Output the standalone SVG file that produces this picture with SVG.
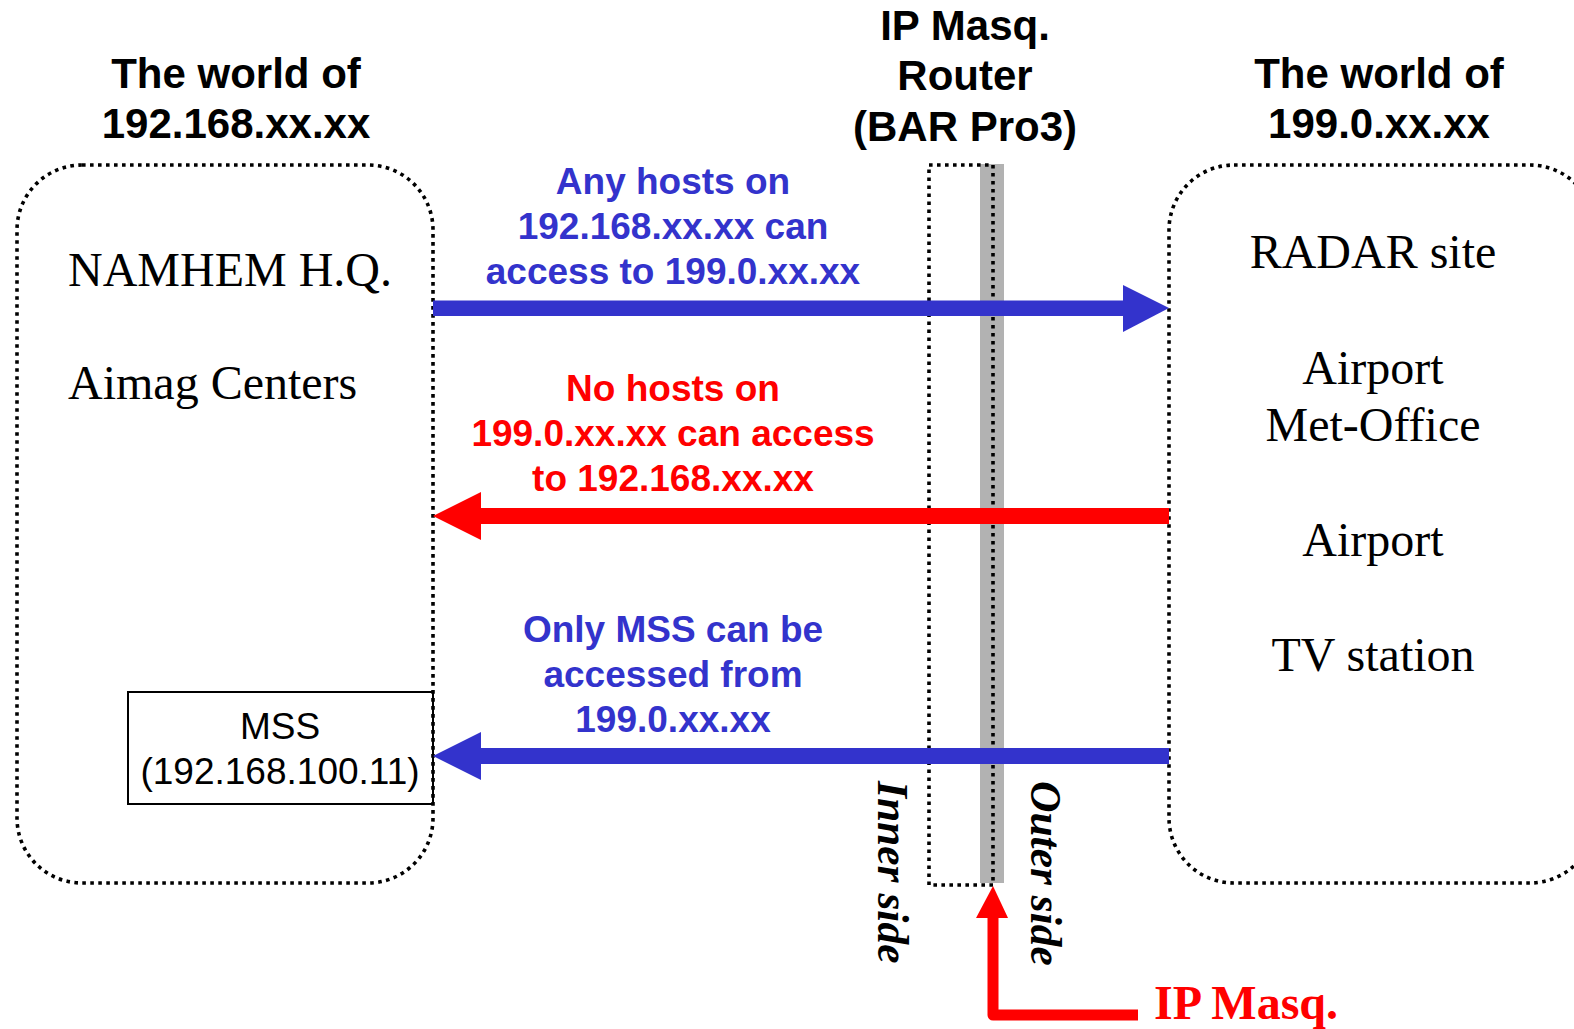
<svg xmlns="http://www.w3.org/2000/svg" width="1574" height="1029" viewBox="0 0 1574 1029">
<style>
.dot{fill:none;stroke:#000;stroke-width:3.6;stroke-dasharray:3.6 4.4}
.ttl{font-family:"Liberation Sans",Arial,sans-serif;font-weight:bold;font-size:42px;fill:#000;text-anchor:middle}
.lbl{font-family:"Liberation Sans",Arial,sans-serif;font-weight:bold;font-size:37px;text-anchor:middle}
.blue{fill:#3333CC}
.red{fill:#FF0000}
.srf{font-family:"Liberation Serif","Times New Roman",serif;font-size:48px;fill:#000}
.side{font-family:"Liberation Serif","Times New Roman",serif;font-size:43.5px;font-weight:bold;font-style:italic;fill:#000}
.mss{font-family:"Liberation Sans",Arial,sans-serif;font-size:37px;fill:#000;text-anchor:middle}
</style>
<rect width="1574" height="1029" fill="#fff"/>
<g id="router">
<rect x="980" y="164" width="24" height="719" fill="#B2B2B2"/>
<rect class="dot" x="929" y="165" width="64" height="720"/>
<text class="ttl" x="965" y="40">IP Masq.</text>
<text class="ttl" x="965" y="90">Router</text>
<text class="ttl" x="965" y="141">(BAR Pro3)</text>
<text class="side" x="878" y="781" transform="rotate(90 878 781)">Inner side</text>
<text class="side" x="1031" y="781" transform="rotate(90 1031 781)">Outer side</text>
</g>
<g id="world-left">
<rect class="dot" x="17" y="165" width="416" height="718" rx="65"/>
<text class="ttl" x="236" y="88">The world of</text>
<text class="ttl" x="236" y="138">192.168.xx.xx</text>
<text class="srf" x="68" y="286">NAMHEM H.Q.</text>
<text class="srf" x="68" y="399">Aimag Centers</text>
</g>
<g id="mss">
<rect x="128" y="692" width="305" height="112" fill="none" stroke="#000" stroke-width="2"/>
<text class="mss" x="280" y="739">MSS</text>
<text class="mss" x="280" y="784">(192.168.100.11)</text>
</g>
<g id="world-right">
<rect class="dot" x="1169" y="165" width="426" height="718" rx="65"/>
<text class="ttl" x="1379" y="88">The world of</text>
<text class="ttl" x="1379" y="138">199.0.xx.xx</text>
<text class="srf" x="1373" y="268" text-anchor="middle">RADAR site</text>
<text class="srf" x="1373" y="384" text-anchor="middle">Airport</text>
<text class="srf" x="1373" y="441" text-anchor="middle">Met-Office</text>
<text class="srf" x="1373" y="556" text-anchor="middle">Airport</text>
<text class="srf" x="1373" y="671" text-anchor="middle">TV station</text>
</g>
<g id="connectors">
<rect class="blue" x="433" y="300.5" width="692" height="15.5"/>
<polygon class="blue" points="1123,285 1169,308 1123,332"/>
<rect class="red" x="479" y="508" width="690" height="16"/>
<polygon class="red" points="481,492 433,516 481,540"/>
<rect class="blue" x="479" y="748" width="690" height="16"/>
<polygon class="blue" points="481,732 433,756 481,780"/>
<path d="M993,916 V1015 H1138" fill="none" stroke="#FF0000" stroke-width="11" stroke-linejoin="round"/>
<polygon class="red" points="976,918 993,886 1008,918"/>
</g>
<g id="labels">
<text class="lbl blue" x="673" y="194">Any hosts on</text>
<text class="lbl blue" x="673" y="239">192.168.xx.xx can</text>
<text class="lbl blue" x="673" y="284">access to 199.0.xx.xx</text>
<text class="lbl red" x="673" y="401">No hosts on</text>
<text class="lbl red" x="673" y="446">199.0.xx.xx can access</text>
<text class="lbl red" x="673" y="491">to 192.168.xx.xx</text>
<text class="lbl blue" x="673" y="642">Only MSS can be</text>
<text class="lbl blue" x="673" y="687">accessed from</text>
<text class="lbl blue" x="673" y="732">199.0.xx.xx</text>
<text x="1154" y="1019" font-family="'Liberation Serif','Times New Roman',serif" font-size="48" font-weight="bold" fill="#FF0000">IP Masq.</text>
</g>
</svg>
